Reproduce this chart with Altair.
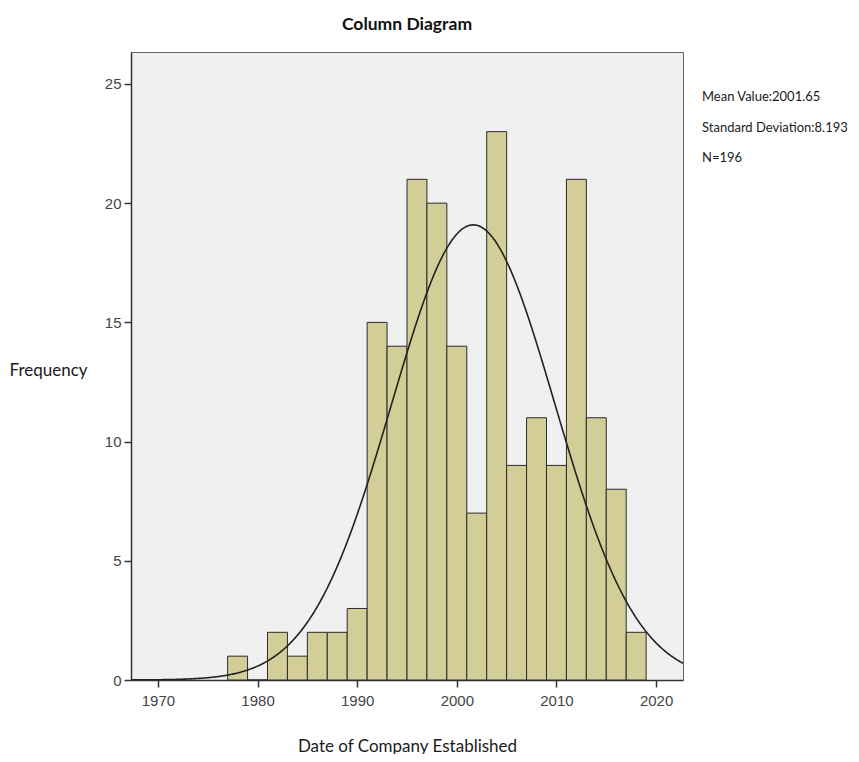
import altair as alt
import pandas as pd

# Histogram data (2-year bins)
bin_start = [1977, 1979, 1981, 1983, 1985, 1987, 1989, 1991, 1993, 1995, 1997,
             1999, 2001, 2003, 2005, 2007, 2009, 2011, 2013, 2015, 2017]
counts = [1, 0, 2, 1, 2, 2, 3, 15, 14, 21, 20, 14, 7, 23, 9, 11, 9, 21, 11, 8, 2]
bin_width = 2
mean_value = 2001.65
std_dev = 8.193
n_total = 196
x_ticks = [1970, 1980, 1990, 2000, 2010, 2020]
y_ticks = [0, 5, 10, 15, 20, 25]
stats_text = ["Mean Value:2001.65", "Standard Deviation:8.193", "N=196"]

df = pd.DataFrame({"start": bin_start, "count": counts})
df["end"] = df["start"] + bin_width

x_dom = [1967.3, 2022.7]
y_dom = [0, 26.34]

xscale = alt.Scale(domain=x_dom, nice=False, zero=False)
yscale = alt.Scale(domain=y_dom, nice=False)

bars = alt.Chart(df).mark_rect(
    fill="#d3ce97", stroke="#2b2b2b", strokeWidth=1
).encode(
    x=alt.X("start:Q", scale=xscale,
            axis=alt.Axis(values=x_ticks, format="d", title="Date of Company Established",
                          tickSize=7, labelPadding=6, grid=False,
                          titleY=66, titleBaseline="middle")),
    x2="end:Q",
    y=alt.Y("count:Q", scale=yscale,
            axis=alt.Axis(values=y_ticks, title="Frequency", tickSize=7, labelPadding=3,
                          grid=False, titleAngle=0, titleAlign="left", titleX=-122,
                          titleY=318, titleBaseline="middle")),
    y2=alt.datum(0),
)

curve = alt.Chart(alt.sequence(start=1967.3, stop=2022.75, step=0.1, as_="x")).transform_calculate(
    y=f"{n_total} * {bin_width} * densityNormal(datum.x, {mean_value}, {std_dev})"
).mark_line(color="#222222", strokeWidth=1.6, clip=True).encode(
    x=alt.X("x:Q", scale=xscale),
    y=alt.Y("y:Q", scale=yscale),
)

stats = alt.layer(*[
    alt.Chart(pd.DataFrame({"t": [t]})).mark_text(
        align="left", baseline="middle", font="Lato", fontSize=13, color="#1a1a1a"
    ).encode(text="t:N", x=alt.value(571), y=alt.value(45 + 30.5 * i))
    for i, t in enumerate(stats_text)
])

chart = alt.layer(bars, curve, stats).properties(
    width=552, height=628,
    title=alt.Title("Column Diagram", font="Lato", fontSize=17.5, fontWeight="bold",
                    color="#111111", anchor="middle", offset=19),
    autosize=alt.AutoSizeParams(type="none"),
    padding={"left": 123, "top": 44, "right": 168, "bottom": 74},
).configure_view(
    fill="#f0f0f0", stroke="#666666", strokeWidth=1
).configure_axis(
    domainColor="#333333", domainWidth=1.5, tickColor="#333333", tickWidth=1.5,
    labelFont="Liberation Sans", labelFontSize=15, labelColor="#444444",
    titleFont="Lato", titleFontSize=17, titleFontWeight="normal", titleColor="#1a1a1a",
)

chart.save("out.html", embed_options={"renderer": "svg", "actions": False})
